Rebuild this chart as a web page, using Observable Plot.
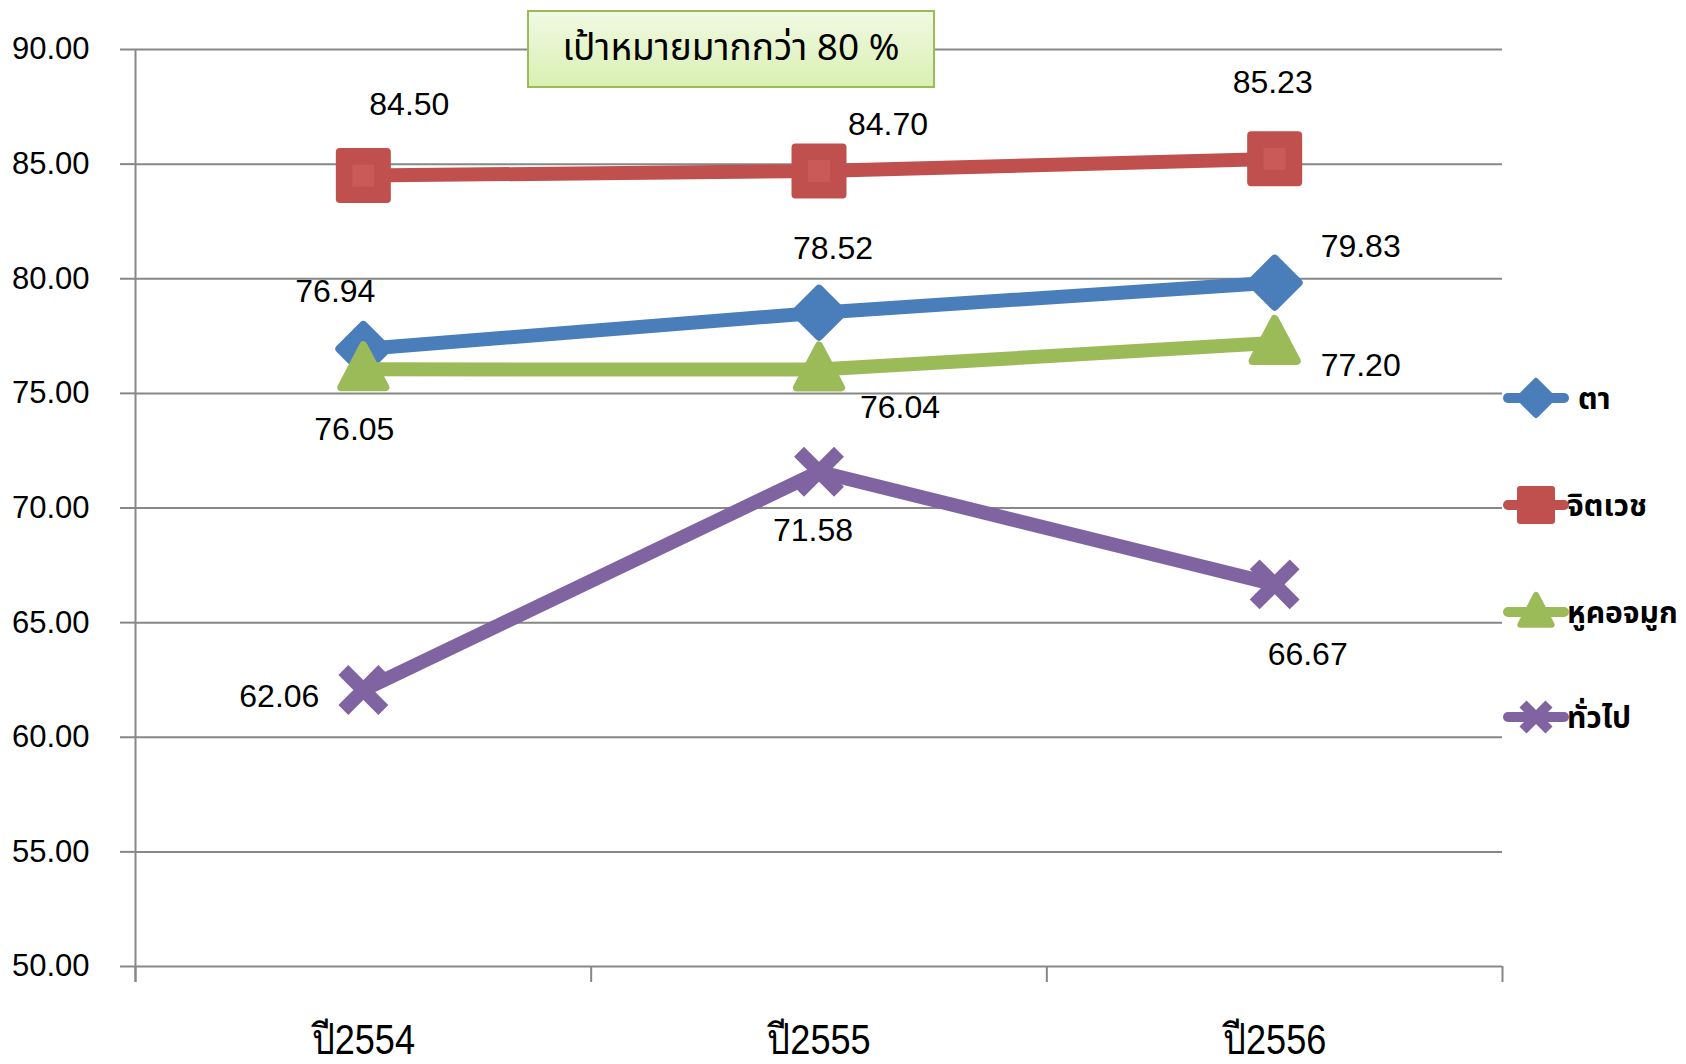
<!DOCTYPE html>
<html><head><meta charset="utf-8">
<script src="https://cdn.jsdelivr.net/npm/d3@7"></script>
<script src="https://cdn.jsdelivr.net/npm/@observablehq/plot@0.6"></script>
<style>
body{margin:0;background:#fff;}
#wrap{position:relative;width:1686px;height:1064px;overflow:hidden;}
#target{position:absolute;left:527px;top:10px;width:404px;height:74px;border:2px solid #9bbb59;
  background:linear-gradient(#f1f9e3,#d9f0b2);display:flex;align-items:center;justify-content:center;
  font-family:Tahoma,"Noto Sans Thai","DejaVu Sans",sans-serif;font-size:37px;color:#000;}
#legend{position:absolute;left:1500px;top:360px;}
</style></head><body><div id="wrap"><div id="target"></div></div>
<script>
const years = ["ปี2554", "ปี2555", "ปี2556"];
const seriesNames = ["ตา", "จิตเวช", "หูคอจมูก", "ทั่วไป"];
const eye = [76.94, 78.52, 79.83];
const psych = [84.50, 84.70, 85.23];
const ent = [76.05, 76.04, 77.20];
const general = [62.06, 71.58, 66.67];
const yTicks = [50, 55, 60, 65, 70, 75, 80, 85, 90];
const targetText = "เป้าหมายมากกว่า 80 %";

// styles / layout
const colors = ["#4a7ebb", "#c0504d", "#9bbb59", "#8064a2"];
const labelOffsets = [
  [[-28, -57], [14, -64], [86, -36]],
  [[46, -71], [69, -46], [-2, -76]],
  [[-9, 60], [81, 38], [86, 23]],
  [[-84, 7], [-6, 59], [33, 70]]
];
const diamondSym = {draw(c, s) {const r = Math.sqrt(s / Math.PI); c.moveTo(0, -r); c.lineTo(r, 0); c.lineTo(0, r); c.lineTo(-r, 0); c.closePath();}};
const squareSym = {draw(c, s) {const r = Math.sqrt(s / Math.PI); c.rect(-r, -r, 2 * r, 2 * r);}};
const triSym = {draw(c, s) {const r = Math.sqrt(s / Math.PI); c.moveTo(0, -r); c.lineTo(0.92 * r, 0.75 * r); c.lineTo(-0.92 * r, 0.75 * r); c.closePath();}};
const xSym = {draw(c, s) {const r = Math.sqrt(s / Math.PI); c.moveTo(-r, -r); c.lineTo(r, r); c.moveTo(r, -r); c.lineTo(-r, r);}};
const symbols = [diamondSym, squareSym, triSym, xSym];
const dotR = [24, 23.5, 24, 20];
const filled = [true, true, true, false];
const innerTint = ["#5088c4", "#c95a57", "#a3c262", null];

const allValues = [eye, psych, ent, general];
const series = allValues.map((vals, s) => years.map((yr, i) => ({name: seriesNames[s], year: yr, xi: i + 0.5, v: vals[i]})));

const gray = "#878787";
const marks = [
  Plot.gridY(yTicks, {stroke: gray, strokeOpacity: 1, strokeWidth: 2}),
  Plot.axisY({ticks: yTicks, tickFormat: d => d.toFixed(2), tickSize: 15, tickPadding: 31,
    stroke: gray, strokeWidth: 2, fill: "#000", fontSize: 31, label: null}),
  Plot.ruleX([0], {y1: 90, y2: 50, insetBottom: -16, stroke: gray, strokeWidth: 2}),
  Plot.ruleX(d3.range(years.length + 1), {y1: 50, y2: 50, insetBottom: -16, stroke: gray, strokeWidth: 2}),
  Plot.text(series[0], {x: "xi", text: "year", frameAnchor: "bottom", dy: 87, fontSize: 42,
    className: "xlab", fontFamily: "'Liberation Sans',sans-serif", fill: "#000"})
];
series.forEach((rows, s) => {
  marks.push(Plot.line(rows, {x: "xi", y: "v", stroke: colors[s], strokeWidth: 14, strokeLinejoin: "round"}));
  marks.push(Plot.dot(rows, {x: "xi", y: "v", r: dotR[s], symbol: symbols[s],
    fill: filled[s] ? colors[s] : "none", stroke: colors[s],
    strokeWidth: filled[s] ? 8 : 14, strokeLinejoin: "round", strokeLinecap: "butt"}));
  if (s === 1) {
    marks.push(Plot.dot(rows, {x: "xi", y: "v", r: 11, symbol: symbols[s], fill: innerTint[s]}));
  }
});
series.forEach((rows, s) => {
  rows.forEach((row, i) => {
    marks.push(Plot.text([row], {x: "xi", y: "v", text: d => d.v.toFixed(2),
      dx: labelOffsets[s][i][0], dy: labelOffsets[s][i][1], fontSize: 32, fill: "#000"}));
  });
});

const chart = Plot.plot({
  width: 1686, height: 1064,
  marginLeft: 135, marginRight: 184, marginTop: 49, marginBottom: 98,
  x: {domain: [0, years.length], axis: null},
  y: {domain: [50, 90], axis: null},
  style: {fontFamily: "'Liberation Sans', Arial, sans-serif", background: "#fff", overflow: "visible"},
  marks
});
d3.select(chart).selectAll(".xlab text").attr("transform", function () {
  return (this.getAttribute("transform") || "") + " scale(0.86,1)";
});
const wrap = document.getElementById("wrap");
wrap.insertBefore(chart, wrap.firstChild);
document.getElementById("target").textContent = targetText;

// legend
const lg = d3.select(wrap).append("svg").attr("id", "legend").attr("width", 186).attr("height", 380)
  .style("font-family", "Tahoma,'Noto Sans Thai','DejaVu Sans',sans-serif");
const rowY = [38, 145, 252, 357];
const lSize = [17, 16, 17, 13];
seriesNames.forEach((nm, s) => {
  const g = lg.append("g").attr("transform", `translate(0,${rowY[s]})`);
  g.append("line").attr("x1", 8).attr("x2", 64).attr("stroke", colors[s]).attr("stroke-width", 10).attr("stroke-linecap", "round");
  g.append("path").attr("transform", "translate(36,0)")
    .attr("d", d3.symbol(symbols[s], Math.PI * lSize[s] * lSize[s])())
    .attr("fill", filled[s] ? colors[s] : "none").attr("stroke", colors[s])
    .attr("stroke-width", filled[s] ? 6 : 10).attr("stroke-linejoin", "round");
  g.append("text").attr("x", s === 0 ? 78 : 67).attr("dy", "0.35em").attr("font-size", 30).attr("font-weight", "bold").text(nm);
});
</script></body></html>
